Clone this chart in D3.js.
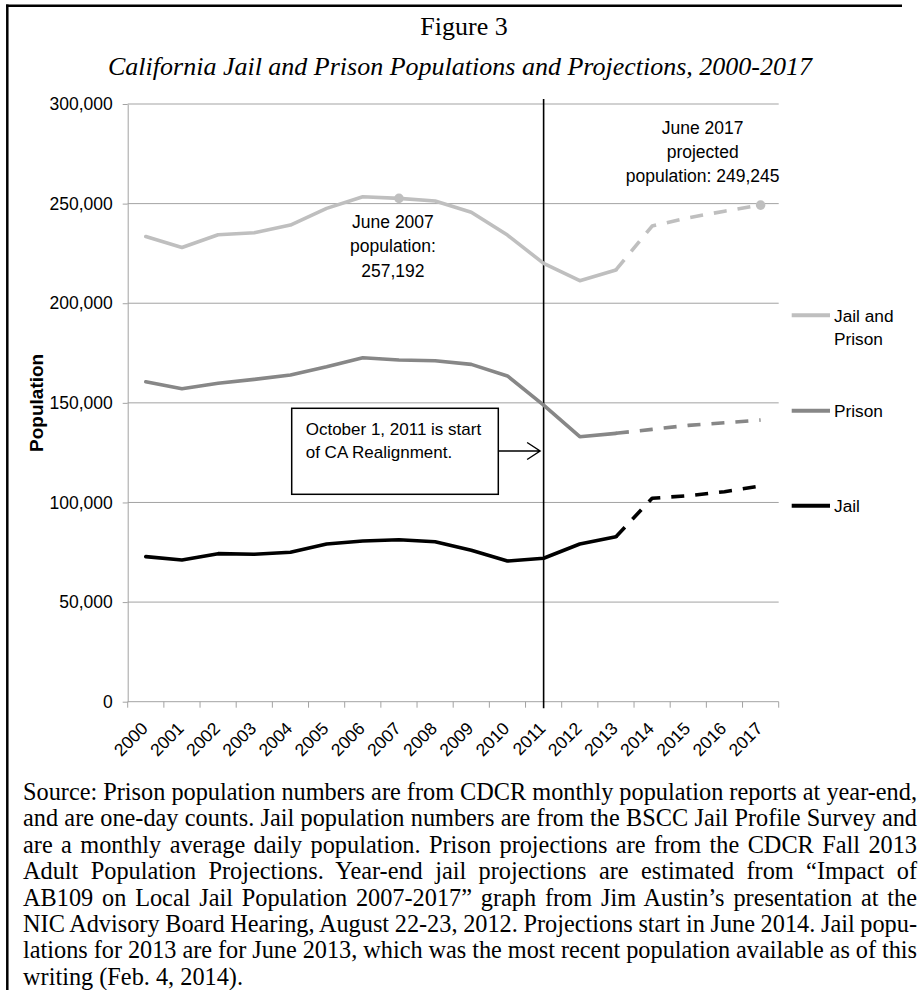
<!DOCTYPE html>
<html>
<head>
<meta charset="utf-8">
<script src="https://cdn.jsdelivr.net/npm/d3@7"></script>
<style>
  body { margin: 0; background: #fff; }
  text { font-family: "Liberation Sans", Arial, sans-serif; }
  .serif { font-family: "Liberation Serif", "Times New Roman", serif; }
</style>
</head>
<body>
<div id="chart"></div>
<script>
// values (year-end populations)
const years = [2000, 2001, 2002, 2003, 2004, 2005, 2006, 2007, 2008,
               2009, 2010, 2011, 2012, 2013, 2014, 2015, 2016, 2017];

const jailPrison = [233500, 228000, 234400, 235400, 239250, 247600, 253450, 252650, 251300,
                    245700, 234200, 220000, 211300, 216700, 238750, 242900, 246200, 249245];
const prison = [160600, 157100, 159800, 161800, 164000, 168100, 172650, 171500, 171150,
                169300, 163500, 148900, 133000, 134700, 136700, 138700, 140000, 141400];
const jail = [72800, 71100, 74300, 74000, 75000, 79150, 80650, 81300, 80300,
              76000, 70600, 72000, 79150, 82800, 102100, 103400, 105400, 108250];

const projFrom = 2013;          // projection (dashed) starts after this year
const realignYear = 2011;
const yTicks = [0, 50000, 100000, 150000, 200000, 250000, 300000];

const seriesNames = ["Jail and Prison", "Prison", "Jail"];
const seriesColors = ["#bfbfbf", "#878787", "#000000"];

const note2007 = ["June 2007", "population:", "257,192"];
const note2017 = ["June 2017", "projected", "population: 249,245"];
const boxNote = ["October 1, 2011 is start", "of CA Realignment."];

const sourceLines = [
  "Source: Prison population numbers are from CDCR monthly population reports at year-end,",
  "and are one-day counts. Jail population numbers are from the BSCC Jail Profile Survey and",
  "are a monthly average daily population. Prison projections are from the CDCR Fall 2013",
  "Adult Population Projections. Year-end jail projections are estimated from \u201cImpact of",
  "AB109 on Local Jail Population 2007-2017\u201d graph from Jim Austin\u2019s presentation at the",
  "NIC Advisory Board Hearing, August 22-23, 2012. Projections start in June 2014. Jail popu-",
  "lations for 2013 are for June 2013, which was the most recent population available as of this",
  "writing (Feb. 4, 2014)."
];

// dimensions
const W = 920, H = 990;
const margin = {top: 104, right: 141.3, bottom: 288.3, left: 127.7},
    width = W - margin.left - margin.right,
    height = H - margin.top - margin.bottom;

const root = d3.select("#chart")
  .append("svg")
    .attr("width", W)
    .attr("height", H);

// outer frame (left + top only)
root.append("line")
  .attr("x1", 7.3).attr("x2", 7.3).attr("y1", 4.5).attr("y2", H)
  .attr("stroke", "#000").attr("stroke-width", 2.5);
root.append("line")
  .attr("x1", 6).attr("x2", 902).attr("y1", 5.7).attr("y2", 5.7)
  .attr("stroke", "#000").attr("stroke-width", 2.5);

// titles
root.append("text").attr("class", "serif")
  .attr("x", 464).attr("y", 35)
  .attr("text-anchor", "middle")
  .style("font-size", "26px")
  .text("Figure 3");
root.append("text").attr("class", "serif")
  .attr("x", 460).attr("y", 75)
  .attr("text-anchor", "middle")
  .style("font-size", "26px")
  .style("font-style", "italic")
  .text("California Jail and Prison Populations and Projections, 2000-2017");

const svg = root.append("g")
  .attr("transform", `translate(${margin.left},${margin.top})`);

// scales
const x = d3.scaleBand().domain(years).range([0, width]).padding(0);
const xc = d => x(d) + x.bandwidth() / 2;
const y = d3.scaleLinear().domain([0, 300000]).range([height, 0]);

// gridlines
svg.append("g")
  .selectAll("line")
  .data(yTicks.filter(d => d > 0))
  .join("line")
    .attr("x1", 0).attr("x2", width)
    .attr("y1", d => y(d)).attr("y2", d => y(d))
    .attr("stroke", "#a3a3a3").attr("stroke-width", 1);

// y axis
const yAxis = svg.append("g")
  .call(d3.axisLeft(y).tickValues(yTicks).tickFormat(d3.format(","))
        .tickSize(5).tickSizeOuter(0).tickPadding(10));
yAxis.select(".domain").attr("stroke", "#a3a3a3");
yAxis.selectAll(".tick line").attr("stroke", "#a3a3a3");
yAxis.selectAll(".tick text")
  .attr("fill", "#000")
  .style("font-size", "17.5px")
  .style("font-family", "'Liberation Sans', Arial, sans-serif");

svg.append("text")
  .attr("transform", `translate(${43 - margin.left},${height / 2}) rotate(-90)`)
  .attr("text-anchor", "middle")
  .style("font-size", "19px")
  .style("font-weight", "bold")
  .text("Population");

// x axis: baseline, ticks at category boundaries, rotated labels at centers
svg.append("line")
  .attr("x1", 0).attr("x2", width).attr("y1", height).attr("y2", height)
  .attr("stroke", "#a3a3a3");
svg.append("g")
  .selectAll("line")
  .data(years.map(d => x(d)).concat([width]))
  .join("line")
    .attr("x1", d => d).attr("x2", d => d)
    .attr("y1", height).attr("y2", height + 6)
    .attr("stroke", "#a3a3a3");
svg.append("g")
  .selectAll("text")
  .data(years)
  .join("text")
    .attr("transform", d => `translate(${xc(d) + 3},${height + 28}) rotate(-45)`)
    .attr("text-anchor", "end")
    .style("font-size", "17.5px")
    .text(d => d);

// realignment line
svg.append("line")
  .attr("x1", xc(realignYear)).attr("x2", xc(realignYear))
  .attr("y1", -5).attr("y2", height + 6.5)
  .attr("stroke", "#000").attr("stroke-width", 1.6);

// series
const series = [jailPrison, prison, jail].map((vals, i) => ({
  name: seriesNames[i],
  color: seriesColors[i],
  values: years.map((yr, j) => ({year: yr, value: vals[j]}))
}));

const line = d3.line()
  .x(d => xc(d.year))
  .y(d => y(d.value));

series.forEach(s => {
  svg.append("path")
    .datum(s.values.filter(d => d.year <= projFrom))
    .attr("d", line)
    .attr("fill", "none")
    .attr("stroke", s.color)
    .attr("stroke-width", 3.6)
    .attr("stroke-linejoin", "round")
    .attr("stroke-linecap", "round");
  svg.append("path")
    .datum(s.values.filter(d => d.year >= projFrom))
    .attr("d", line)
    .attr("fill", "none")
    .attr("stroke", s.color)
    .attr("stroke-width", 3.6)
    .attr("stroke-dasharray", "13,11")
    .attr("stroke-linejoin", "round");
});

// highlighted points on the total line
svg.append("g")
  .selectAll("circle")
  .data(series[0].values.filter(d => d.year === 2007 || d.year === 2017))
  .join("circle")
    .attr("cx", d => xc(d.year))
    .attr("cy", d => y(d.value))
    .attr("r", 4.8)
    .attr("fill", seriesColors[0]);

// annotations
svg.append("text")
  .attr("text-anchor", "middle")
  .style("font-size", "17.5px")
  .selectAll("tspan")
  .data(note2007)
  .join("tspan")
    .attr("x", xc(2007) - 6)
    .attr("y", (d, i) => 124 + i * 24.3)
    .text(d => d);

svg.append("text")
  .attr("text-anchor", "middle")
  .style("font-size", "17.5px")
  .selectAll("tspan")
  .data(note2017)
  .join("tspan")
    .attr("x", xc(2015) + 14.4)
    .attr("y", (d, i) => 29.6 + i * 24.3)
    .text(d => d);

// realignment box + arrow
const box = {x: 291.7 - margin.left, y: 408.3 - margin.top, w: 206.6, h: 86};
svg.append("rect")
  .attr("x", box.x).attr("y", box.y)
  .attr("width", box.w).attr("height", box.h)
  .attr("fill", "#fff").attr("stroke", "#000").attr("stroke-width", 1.5);
svg.append("text")
  .style("font-size", "17px")
  .selectAll("tspan")
  .data(boxNote)
  .join("tspan")
    .attr("x", box.x + 14)
    .attr("y", (d, i) => box.y + 26.5 + i * 23.5)
    .text(d => d);
const ay = box.y + 42.7, tip = xc(realignYear) - 3.5;
svg.append("path")
  .attr("d", `M${box.x + box.w},${ay}H${tip}M${tip - 13},${ay - 8.5}L${tip},${ay}L${tip - 13},${ay + 8.5}`)
  .attr("fill", "none").attr("stroke", "#000").attr("stroke-width", 1.4);

// legend
const legendY = [315.3, 410.7, 505.7];
const legend = root.append("g");
series.forEach((s, i) => {
  legend.append("line")
    .attr("x1", 791.7).attr("x2", 830)
    .attr("y1", legendY[i]).attr("y2", legendY[i])
    .attr("stroke", s.color).attr("stroke-width", 4);
  const words = s.name === "Jail and Prison" ? ["Jail and", "Prison"] : [s.name];
  legend.append("text")
    .style("font-size", "17.3px")
    .selectAll("tspan")
    .data(words)
    .join("tspan")
      .attr("x", 834)
      .attr("y", (d, j) => legendY[i] + 6.2 + j * 23.5)
      .text(d => d);
});

// source note, justified
const srcLeft = 23, srcRight = 917;
root.append("g")
  .selectAll("text")
  .data(sourceLines)
  .join("text")
    .attr("class", "serif")
    .attr("x", srcLeft)
    .attr("y", (d, i) => 800 + i * 26.4)
    .style("font-size", "24.3px")
    .text(d => d)
    .each(function(d, i) {
      if (i === sourceLines.length - 1) return;
      const natural = this.getComputedTextLength();
      const spaces = (d.match(/ /g) || []).length;
      const extra = (srcRight - srcLeft - natural) / spaces;
      if (extra > -2) {
        d3.select(this).style("word-spacing", extra + "px");
      } else {
        d3.select(this)
          .attr("textLength", srcRight - srcLeft)
          .attr("lengthAdjust", "spacingAndGlyphs");
      }
    });
</script>
</body>
</html>
